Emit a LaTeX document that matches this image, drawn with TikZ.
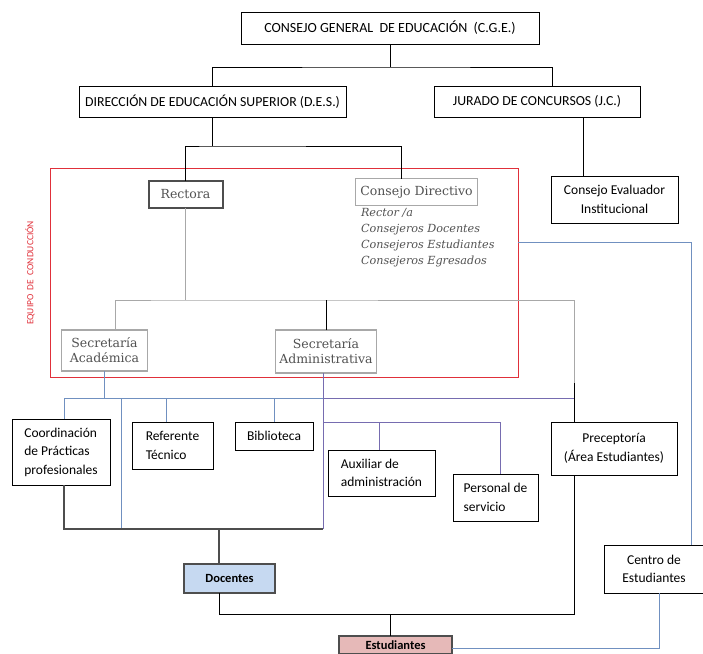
\documentclass[tikz,border=0pt]{standalone}
\usepackage{fontspec}
\setmainfont{Carlito}
\newfontfamily\georgia{DejaVu Serif}
\usetikzlibrary{positioning, calc}
\definecolor{rojo}{RGB}{224,48,58}
\definecolor{azul}{RGB}{112,144,192}
\definecolor{lila}{RGB}{118,108,176}
\definecolor{gris}{RGB}{168,168,168}
\definecolor{grisosc}{RGB}{78,78,78}
\definecolor{textogris}{RGB}{82,82,82}
\definecolor{celeste}{RGB}{198,217,241}
\definecolor{rosa}{RGB}{230,185,184}
\tikzset{
  organigrama/.style={
	x=1pt, y=-1pt, % coordinates in pixels, downwards
	every node/.style={inner sep=0pt, outer sep=0pt},
	linea/.style={draw=black, line width=0.9pt},
	lineagris/.style={draw=gris, line width=0.9pt},
	lineaazul/.style={draw=azul, line width=0.9pt},
	linealila/.style={draw=lila, line width=0.9pt},
	lineaosc/.style={draw=grisosc, line width=1.1pt},
  },
  caja/.style={draw=black, line width=0.9pt, fill=white, align=center,
	font=\fontsize{13.5}{18.5}\selectfont},
  cajaizq/.style={caja, align=left},
  cajaserif/.style={draw=gris, line width=1.3pt, fill=white, align=center,
	text=textogris, font=\georgia\fontsize{12.5}{15}\selectfont},
  cajacolor/.style={draw=grisosc, line width=1.1pt, fill=#1,
	font=\fontsize{12.5}{14}\selectfont\bfseries},
}

\begin{document}
\begin{tikzpicture}[organigrama]
\useasboundingbox (0,0) rectangle (703,653);

% alturas de las barras
\coordinate (h0) at (0,242);
\coordinate (h1) at (0,398);
\coordinate (h2) at (0,422);
\coordinate (h3) at (0,529);
\coordinate (h4) at (0,614);

\node[caja, minimum width=298, minimum height=32, font=\fontsize{14}{18}\selectfont] (cge) at (390,28) {CONSEJO GENERAL\ \ DE EDUCACIÓN\ \ (C.G.E.)};
\node[caja, minimum width=267, minimum height=31, font=\fontsize{13.8}{18}\selectfont] (des) at (212.5,101.5) {DIRECCIÓN DE EDUCACIÓN SUPERIOR (D.E.S.)};
\node[caja, minimum width=206, minimum height=31, font=\fontsize{13.8}{18}\selectfont] (jc) at (537,101.5) {JURADO DE CONCURSOS (J.C.)};
\node[caja, minimum width=127, minimum height=47] (cei) at (614.5,199.5) {Consejo Evaluador\\Institucional};

\node[draw=rojo, line width=1pt, minimum width=468, minimum height=209] (equipo) at (284,272.5) {};
\node[rotate=90, text=rojo, font=\fontsize{9.5}{10}\selectfont] (rotulo) at (30,273) {EQUIPO\ \ DE\ \ CONDUCCIÓN};

\node[cajaserif, draw=grisosc, line width=2pt, minimum width=74, minimum height=27] (rectora) at (185.5,194) {Rectora};
\node[cajaserif, minimum width=122, minimum height=27] (cd) at (416.5,192) {Consejo Directivo};
\node[anchor=north west, align=left, text=textogris, font=\georgia\itshape\fontsize{11.2}{16.2}\selectfont] (miembros) at (361,208) {Rector /a\\Consejeros Docentes\\Consejeros Estudiantes\\Consejeros Egresados};
\node[cajaserif, minimum width=86, minimum height=41] (seca) at (104.5,350.5) {Secretaría\\Académica};
\node[cajaserif, minimum width=101, minimum height=43] (secadm) at (326,351.5) {Secretaría\\Administrativa};

\node[cajaizq, minimum width=98, minimum height=66] (coord) at (61,452) {Coordinación\\de Prácticas\\profesionales};
\node[cajaizq, minimum width=81, minimum height=47] (ref) at (172.5,445.5) {Referente\\Técnico};
\node[caja, minimum width=78, minimum height=28] (bib) at (274,436) {Biblioteca};
\node[cajaizq, minimum width=107, minimum height=46] (aux) at (381.5,473) {Auxiliar de\\administración};
\node[cajaizq, minimum width=85, minimum height=47] (pers) at (495.5,497.5) {Personal de\\servicio};
\node[caja, minimum width=126, minimum height=53] (prec) at (614,448.5) {Preceptoría\\(Área Estudiantes)};
\node[caja, minimum width=100, minimum height=48] (centro) at (654,569) {Centro de\\Estudiantes};
\node[cajacolor=celeste, minimum width=91, minimum height=29] (doc) at (229.5,578.5) {Docentes};
\node[cajacolor=rosa, minimum width=113, minimum height=18] (est) at (395.5,645) {Estudiantes};

% puntos de entrada
\coordinate (jcin) at ($(jc.north)+(15,0)$);
\coordinate (cein) at ($(cei.north)+(-31.5,0)$);
\coordinate (cdin) at ($(cd.north)+(-15.5,0)$);
\coordinate (secain) at ($(seca.north)+(10.5,0)$);
\coordinate (precin) at ($(prec.north)+(-40,0)$);
\coordinate (precout) at ($(prec.south)+(-40,0)$);
\coordinate (admout) at ($(secadm.south)+(-3,0)$);
\coordinate (coordin) at ($(coord.north)+(3,0)$);
\coordinate (coordout) at ($(coord.south)+(3,0)$);
\coordinate (refin) at ($(ref.north)+(-6.5,0)$);
\coordinate (auxin) at ($(aux.north)+(-2.5,0)$);
\coordinate (persin) at ($(pers.north)+(4.5,0)$);
\coordinate (docin) at ($(doc.north)+(-10.5,0)$);
\coordinate (docout) at ($(doc.south)+(-10.5,0)$);
\coordinate (estin) at ($(est.north)+(-5.5,0)$);
\coordinate (centroin) at ($(centro.south)+(5.5,0)$);
\coordinate (centroup) at ($(centro.north)+(37.5,0)$);

\draw[linea] (cge.south) -- ++(0,23) coordinate (c1);
\draw[linea] (des.north) |- (c1) -| (jcin);
\draw[linea] (cein) -- (cein |- jc.south);
\draw[linea] (des.south) -- ++(0,29) coordinate (c2);
\draw[linea] (rectora.north) |- (c2) -| (cdin);

\draw[lineagris] (rectora.south) -- ++(0,92.5) coordinate (c3);
\draw[lineagris] (secain) |- (c3) -- (precin |- c3) -- ++(0,83) coordinate (c4);
\draw[linea] (c4) -- (precin);
\draw[linea] (secadm.north) -- (secadm.north |- c3);

\draw[lineaazul] (seca.south) -- (seca.south |- h1);
\draw[lineaazul] (coordin) |- (admout |- h1);
\draw[lineaazul] ($(coord.east |- h1)+(11,0)$) -- ($(coord.east |- h3)+(11,0)$);
\draw[lineaazul] (refin) -- (refin |- h1);
\draw[lineaazul] (bib.north) -- (bib.north |- h1);
\draw[linealila] (admout |- h1) -- (precin |- h1);
\draw[linealila] (admout) -- (admout |- h3);
\draw[linealila] (admout |- h2) -| (persin);
\draw[linealila] (auxin) -- (auxin |- h2);

\draw[lineaosc] (coordout) |- (admout |- h3);
\draw[lineaosc] (docin) -- (docin |- h3);
\draw[linea] (docout) |- (precout |- h4) -- (precout);
\draw[linea] (estin) -- (estin |- h4);

\draw[lineaazul] ($(est.east)+(0,3)$) -| (centroin);
\draw[lineaazul] (centroup) |- (equipo.east |- h0);
\end{tikzpicture}
\end{document}
